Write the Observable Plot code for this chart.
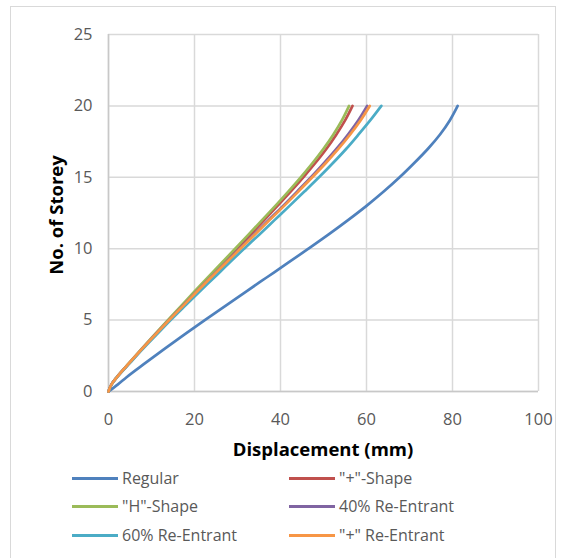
<!DOCTYPE html>
<html>
<head>
<meta charset="utf-8">
<script src="https://cdn.jsdelivr.net/npm/d3@7"></script>
<script src="https://cdn.jsdelivr.net/npm/@observablehq/plot@0.6"></script>
<style>
  html, body { margin: 0; padding: 0; background: #fff; }
  #wrap { position: relative; width: 564px; height: 558px; overflow: hidden; font-family: "Open Sans", sans-serif; color: #595959; }
  #frame { position: absolute; left: 10px; top: 6px; width: 546px; height: 560px; border: 1px solid #d9d9d9; box-sizing: border-box; }
  #chart { position: absolute; left: 0; top: 0; }
  .title { position: absolute; font-weight: bold; color: #000; font-size: 18.5px; white-space: nowrap; }
  .leg { position: absolute; font-size: 16px; white-space: nowrap; line-height: 20px; }
  .leg span.sw { display: inline-block; width: 46px; height: 3px; vertical-align: middle; margin-right: 4px; position: relative; top: -1px; }
</style>
</head>
<body>
<div id="wrap">
  <div id="frame"></div>
  <div id="chart"></div>
  <div class="title" id="xtitle">Displacement (mm)</div>
  <div class="title" id="ytitle">No. of Storey</div>
  <div id="legend"></div>
</div>
<script>
// Storey levels (y) and displacement (mm) for each model (x)
const storeys = [0, 0.5, 1, 2, 3, 4, 5, 6, 7, 8, 9, 10, 11, 12, 13, 14, 15, 16, 17, 18, 19, 20];
const regular       = [0, 2.2, 4.2, 8.6, 13.1, 17.7, 22.4, 27.2, 32.0, 36.85, 41.7, 46.5, 51.2, 55.7, 60.0, 64.0, 67.7, 71.1, 74.3, 77.1, 79.4, 81.2];
const hShape        = [0, 0.7, 1.9, 4.8, 7.75, 10.75, 13.8, 16.9, 20.0, 23.15, 26.3, 29.45, 32.6, 35.7, 38.8, 41.8, 44.7, 47.45, 50.0, 52.3, 54.3, 55.95];
const plusShape     = [0, 0.7, 1.95, 4.9, 7.9, 10.9, 14.0, 17.15, 20.3, 23.45, 26.65, 29.85, 33.05, 36.2, 39.3, 42.35, 45.3, 48.1, 50.7, 53.0, 55.05, 56.75];
const reEntrant40   = [0, 0.7, 1.95, 4.9, 7.85, 10.9, 14.05, 17.25, 20.5, 23.8, 27.15, 30.5, 33.85, 37.2, 40.6, 43.85, 47.1, 50.15, 53.05, 55.7, 58.1, 60.15];
const reEntrant60   = [0, 0.75, 2.0, 5.0, 8.05, 11.25, 14.45, 17.8, 21.2, 24.65, 28.05, 31.55, 35.1, 38.6, 42.1, 45.55, 48.95, 52.2, 55.3, 58.15, 60.9, 63.45];
const plusReEntrant = [0, 0.7, 1.95, 4.85, 7.85, 10.95, 14.1, 17.35, 20.6, 23.9, 27.3, 30.65, 34.05, 37.45, 40.85, 44.15, 47.4, 50.55, 53.5, 56.2, 58.65, 60.75];

const seriesNames = ["Regular", "\"+\"-Shape", "\"H\"-Shape", "40% Re-Entrant", "60% Re-Entrant", "\"+\" Re-Entrant"];
const seriesColors = ["#4F81BD", "#C0504D", "#9BBB59", "#8064A2", "#4BACC6", "#F79646"];
const seriesValues = [regular, plusShape, hShape, reEntrant40, reEntrant60, plusReEntrant];

const xTicks = [0, 20, 40, 60, 80, 100];
const yTicks = [0, 5, 10, 15, 20, 25];

const rows = [];
seriesNames.forEach((name, i) => {
  seriesValues[i].forEach((d, j) => rows.push({series: name, disp: d, storey: storeys[j]}));
});

const plot = Plot.plot({
  width: 564,
  height: 460,
  marginLeft: 108,
  marginRight: 26,
  marginTop: 34,
  marginBottom: 69,
  style: {fontFamily: "'Open Sans', sans-serif", fontSize: "16.5px", color: "#595959", background: "transparent"},
  x: {domain: [0, 100], label: null},
  y: {domain: [0, 25], label: null},
  color: {domain: seriesNames, range: seriesColors},
  marks: [
    Plot.gridX(xTicks, {stroke: "#d9d9d9", strokeOpacity: 1, strokeWidth: 1.5}),
    Plot.gridY(yTicks, {stroke: "#d9d9d9", strokeOpacity: 1, strokeWidth: 1.5}),
    Plot.ruleY([0], {stroke: "#c8c8c8", strokeWidth: 1.5}),
    Plot.ruleX([0], {stroke: "#c8c8c8", strokeWidth: 1.5}),
    Plot.axisX(xTicks, {tickSize: 0, tickPadding: 22, fill: "#595959", label: null}),
    Plot.axisY(yTicks, {tickSize: 0, tickPadding: 16, fill: "#595959", label: null}),
    ...seriesNames.map((name, i) =>
      Plot.line(rows.filter(r => r.series === name), {
        x: "disp", y: "storey", stroke: seriesColors[i], strokeWidth: 2.7, curve: "monotone-y"
      })
    )
  ]
});
document.getElementById("chart").appendChild(plot);

const xt = document.getElementById("xtitle");
xt.style.left = "323px"; xt.style.top = "436px"; xt.style.transform = "translateX(-50%)";
const yt = document.getElementById("ytitle");
yt.style.left = "55px"; yt.style.top = "215px"; yt.style.transform = "translate(-50%,-50%) rotate(-90deg)";

const legend = document.getElementById("legend");
const legPos = [[72, 478], [289, 478], [72, 506], [289, 506], [72, 535], [289, 535]];
seriesNames.forEach((name, i) => {
  const el = document.createElement("div");
  el.className = "leg";
  el.style.left = legPos[i][0] + "px";
  el.style.top = (legPos[i][1] - 10) + "px";
  el.innerHTML = `<span class="sw" style="background:${seriesColors[i]}"></span>`;
  el.appendChild(document.createTextNode(name));
  legend.appendChild(el);
});
</script>
</body>
</html>
